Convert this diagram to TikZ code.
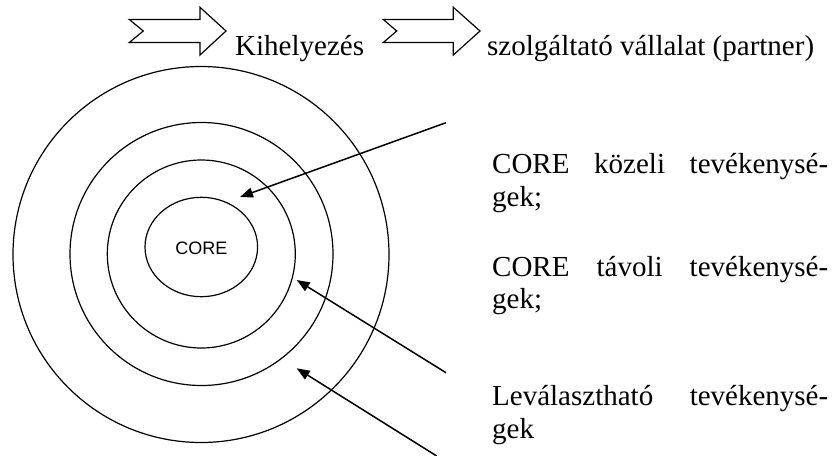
\documentclass[tikz,border=0pt]{standalone}
\usepackage{fontspec}
\setmainfont{Liberation Serif}
\newfontfamily\arialfont{Liberation Sans}
\usetikzlibrary{arrows.meta}
\begin{document}
\begin{tikzpicture}[x=1pt,y=-1pt,
  ring/.style={line width=1.2pt},
  pointer/.style={line width=1.5pt,-{Triangle[length=13pt,width=10pt]}},
  blockarrow/.style={line width=1.2pt,line join=miter},
  txt/.style={inner sep=0pt,anchor=base west,font=\fontsize{29}{33}\selectfont}]
\useasboundingbox (0,0) rectangle (832,455);
% rings
\draw[ring] (201,254.5) circle[radius=188];
\draw[ring] (201.5,254) circle[radius=131.5];
\draw[ring] (201.3,254) circle[radius=94];
\draw[ring] (201.3,247) ellipse[x radius=56.3,y radius=49.7];
\node[inner sep=0pt,font=\arialfont\fontsize{18}{20}\selectfont] (core) at (201.3,248) {CORE};
% block arrows
\draw[blockarrow] (129.3,19.5) -- (200,19.5) -- (200,7.3) -- (226,31) -- (200,55) -- (200,42.5) -- (129.3,42.5) -- (143.3,31) -- cycle;
\draw[blockarrow] (383.3,19.5) -- (453.3,19.5) -- (453.3,7.3) -- (480,31) -- (453.3,55) -- (453.3,42.5) -- (383.3,42.5) -- (396.7,31) -- cycle;
% texts
\node[txt] (kih) at (235,55) {Kihelyezés};
\node[txt] (szolg) at (487,55) {szolgáltató vállalat (partner)};
\node[txt] (l1) at (492,173) {\hbox to 336pt{CORE\hfill közeli\hfill tevékenysé-}};
\node[txt] (l2) at (492,206) {gek;};
\node[txt] (l3) at (492,276) {\hbox to 336pt{CORE\hfill távoli\hfill tevékenysé-}};
\node[txt] (l4) at (492,308) {gek;};
\node[txt] (l5) at (492,405) {\hbox to 336pt{Leválasztható\hfill tevékenysé-}};
\node[txt] (l6) at (492,438) {gek};
% pointers
\coordinate (s1) at (446,122.7); \coordinate (t1) at (240,197);
\coordinate (s2) at (446,372.7); \coordinate (t2) at (296.7,280);
\coordinate (s3) at (436.7,456); \coordinate (t3) at (296.7,368.3);
\draw[pointer] (s1) -- (t1);
\draw[pointer] (s2) -- (t2);
\draw[pointer] (s3) -- (t3);
\end{tikzpicture}
\end{document}
